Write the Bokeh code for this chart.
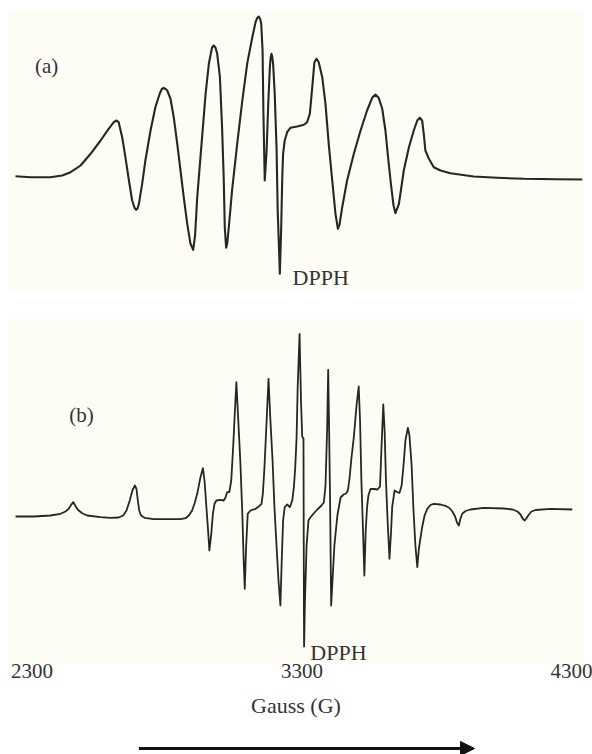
from bokeh.plotting import figure
from bokeh.layouts import column
from bokeh.models import Range1d, FixedTicker, Arrow, NormalHead
from bokeh.core.properties import value
from bokeh.embed import file_html
from bokeh.resources import INLINE

# ---------------- data ----------------
# (a) spectrum: magnetic field (G) and first-derivative signal (a.u.)
field_a = [2239, 2294, 2368, 2412, 2443, 2480, 2517, 2554, 2584, 2603,
           2613, 2621, 2634, 2646, 2659, 2671, 2680, 2686, 2691, 2696,
           2708, 2720, 2739, 2757, 2773, 2781, 2788, 2794, 2801, 2813,
           2825, 2838, 2850, 2862, 2875, 2887, 2897, 2904, 2912, 2930,
           2943, 2955, 2967, 2973, 2980, 2986, 2996, 3004, 3010, 3014,
           3019, 3023, 3029, 3041, 3060, 3079, 3097, 3116, 3128, 3134,
           3140, 3145, 3149, 3154, 3157, 3162, 3169, 3175, 3181, 3184,
           3187, 3190, 3193, 3199, 3206, 3210, 3216, 3218, 3223, 3227,
           3230, 3236, 3245, 3257, 3282, 3307, 3319, 3329, 3338, 3346,
           3354, 3362, 3375, 3387, 3399, 3412, 3424, 3433, 3439, 3449,
           3467, 3492, 3517, 3541, 3560, 3572, 3584, 3597, 3609, 3620,
           3630, 3639, 3646, 3659, 3677, 3696, 3714, 3727, 3736, 3745,
           3751, 3757, 3770, 3788, 3813, 3850, 3936, 4023, 4121, 4245,
           4338]
signal_a = [0.3, -0.7, -0.7, 1, 4.3, 11, 22.7, 36, 47.7, 54.3,
            56, 54.3, 39.3, 19.3, -4, -24, -31.5, -33.3, -32, -27.3,
            -7.3, 16, 46, 69.3, 82.7, 87.5, 88.7, 87.7, 86, 77.7,
            59.3, 32.7, 6, -20.7, -47.3, -67.3, -73.3, -59, -20.7, 39.3,
            82.7, 112.7, 129.3, 131, 128.5, 122.7, 99.3, 49.3, -0.7, -50.7,
            -71.3, -67, -50.7, -14, 32.7, 76, 112.7, 139.3, 154.3, 158.5,
            160, 157.5, 152.7, 126, 66, -4, 26, 72.7, 109.3, 119,
            122.7, 119.5, 112.7, 82.7, 26, -34, -80.7, -97.3, -50.7, -0.7,
            22.7, 36, 44.3, 48.7, 50, 51.7, 54.3, 62.7, 89.3, 114.3,
            117.7, 114.3, 99.3, 72.7, 32.7, -4, -37.3, -52.3, -48, -30.7,
            -4, 22.7, 46, 66, 78.7, 82, 78.7, 68, 46, 16,
            -9, -29, -36.7, -27.3, 6, 29.3, 46, 56, 58.7, 56,
            42.7, 26, 17.7, 9.3, 6, 3.3, 0, -1.3, -2.3, -2.7,
            -3]

# (b) spectrum
field_b = [2239, 2307, 2368, 2406, 2424, 2436, 2445, 2453, 2460, 2470,
           2486, 2504, 2554, 2591, 2621, 2638, 2650, 2662, 2672, 2681,
           2687, 2692, 2697, 2704, 2717, 2751, 2801, 2850, 2869, 2881,
           2893, 2902, 2912, 2924, 2933, 2939, 2946, 2953, 2957, 2964,
           2970, 2976, 2983, 2998, 3010, 3017, 3023, 3031, 3038, 3045,
           3051, 3057, 3064, 3072, 3079, 3084, 3088, 3093, 3099, 3109,
           3128, 3140, 3150, 3155, 3161, 3169, 3176, 3183, 3191, 3198,
           3206, 3213, 3220, 3225, 3230, 3236, 3245, 3255, 3264, 3270,
           3275, 3280, 3284, 3291, 3296.3, 3300.7, 3305.5, 3306.3, 3307, 3307.7,
           3311, 3317, 3324, 3331, 3343, 3357, 3372, 3381, 3387, 3393,
           3397, 3400, 3404, 3408, 3413, 3420, 3431, 3443, 3454, 3463,
           3470, 3476, 3483, 3492, 3502, 3510, 3515, 3520, 3526, 3531,
           3536, 3541, 3546, 3554, 3568, 3580, 3589, 3594, 3601, 3606,
           3611, 3617, 3624, 3630, 3634, 3643, 3652, 3661, 3669, 3676,
           3683, 3692, 3698, 3706, 3713, 3720, 3727, 3733, 3745, 3754,
           3764, 3776, 3788, 3813, 3831, 3846, 3857, 3867, 3874, 3881,
           3887, 3894, 3906, 3924, 3973, 4047, 4080, 4098, 4109, 4117,
           4125, 4131, 4139, 4150, 4165, 4220, 4301]
signal_b = [0, 0, 1, 2.7, 5, 7.7, 11.7, 14.3, 11, 6.7,
            3.3, 1, -0.7, -1.3, -1, 1, 6, 16, 26, 31,
            27.7, 16, 6, 1, -1.3, -2.7, -2.7, -2.7, -1.7, 1,
            6, 13, 22.7, 39.3, 48.3, 36, 9.3, -17.3, -34, -17.3,
            2.7, 12.7, 16, 16.7, 16, 19.3, 24.3, 24.3, 36, 69.3,
            102.7, 134.3, 96, 52.7, 2.7, -44, -72.3, -30.7, 2.7, 6,
            7.7, 10, 12.7, 22.7, 49.3, 96, 137.7, 96, 56, 9.3,
            -30.7, -64, -89, -44, -4, 9.3, 12, 9.3, 16, 29.3,
            49.3, 79.3, 129.3, 182.7, 116, 80, 78, -4, -84, -130,
            -84, -29, -4, -1, 3, 7, 11, 14, 31, 86,
            146.7, 96, 16, -89, -64, -29, 1, 19, 22, 23,
            26, 38, 58, 79.3, 111, 130, 96, 36, -14, -59,
            -14, 9.3, 21, 27.7, 27.5, 27, 30, 66, 112, 86,
            36, -4, -42.3, -14, 9.3, 26, 24.5, 23.5, 31, 51,
            76, 88.7, 81, 51, 6, -29, -50.7, -32, -10.7, 1,
            7.7, 11.5, 12.7, 12, 10.7, 8.5, 5, 0, -6, -9,
            -2, 3, 5.5, 7, 8.7, 8, 7, 5, 2, -2,
            -4, -2, 1.5, 5, 6.5, 7.7, 7]

tick_values = [2300, 3300, 4300]
panel_names = ["(a)", "(b)"]
marker_name = "DPPH"
x_title = "Gauss (G)"

# ---------------- styling ----------------
X0, X1 = 2213.0, 4342.6
CREAM = "#fdfdf6"
INK = "#262626"
TXT = "#333333"
FONT = "Liberation Serif"
W = 592
BL, BR = 8, 9


def panel(height, y0, y1, **kw):
    p = figure(width=W, height=height, x_range=Range1d(X0, X1),
               y_range=Range1d(y0, y1), output_backend="svg",
               toolbar_location=None, min_border_left=BL, min_border_right=BR,
               y_axis_location=None, **kw)
    p.background_fill_color = CREAM
    p.border_fill_color = "white"
    p.outline_line_color = None
    p.grid.visible = False
    return p


# panel (a)
pa = panel(318, -114, 166, x_axis_location=None,
           min_border_top=10, min_border_bottom=28)
pa.line(field_a, signal_a, line_color=INK, line_width=2.1, line_join="round")
pa.text(x=[2354], y=[111], text=[panel_names[0]], text_font=value(FONT),
        text_font_size="21px", text_color=TXT, text_align="center",
        text_baseline="middle")
pa.text(x=[3265], y=[-101], text=[marker_name], text_font=value(FONT),
        text_font_size="22px", text_color=TXT, text_align="left",
        text_baseline="alphabetic")

# panel (b) with field axis
pb = panel(412, -147, 198, x_axis_location="below",
           min_border_top=0, min_border_bottom=67)
pb.line(field_b, signal_b, line_color=INK, line_width=1.8, line_join="round")
pb.text(x=[2483], y=[102], text=[panel_names[1]], text_font=value(FONT),
        text_font_size="21px", text_color=TXT, text_align="center",
        text_baseline="middle")
pb.text(x=[3331], y=[-136], text=[marker_name], text_font=value(FONT),
        text_font_size="22px", text_color=TXT, text_align="left",
        text_baseline="alphabetic")
ax = pb.xaxis[0]
ax.ticker = FixedTicker(ticks=tick_values)
ax.axis_line_color = None
ax.major_tick_line_color = None
ax.minor_tick_line_color = None
ax.major_tick_out = 0
ax.major_tick_in = 0
ax.major_label_standoff = 0
ax.major_label_text_font = FONT
ax.major_label_text_font_size = "21px"
ax.major_label_text_color = TXT
ax.axis_label = x_title
ax.axis_label_text_font = FONT
ax.axis_label_text_font_style = "normal"
ax.axis_label_text_font_size = "22px"
ax.axis_label_text_color = TXT
ax.axis_label_standoff = 12

# arrow strip (direction of increasing field)
pc = figure(width=W, height=24, x_range=pb.x_range, y_range=Range1d(0, 24),
            output_backend="svg", toolbar_location=None,
            x_axis_location=None, y_axis_location=None,
            min_border_left=BL, min_border_right=BR,
            min_border_top=0, min_border_bottom=0)
pc.background_fill_color = "white"
pc.border_fill_color = "white"
pc.outline_line_color = None
pc.grid.visible = False
pc.add_layout(Arrow(x_start=2696, y_start=6, x_end=3939, y_end=6,
                    line_color="#111111", line_width=3,
                    end=NormalHead(size=14, fill_color="#111111",
                                   line_color="#111111", line_width=1)))

layout = column(pa, pb, pc, spacing=0)
open("out.html", "w").write(file_html(layout, INLINE))
